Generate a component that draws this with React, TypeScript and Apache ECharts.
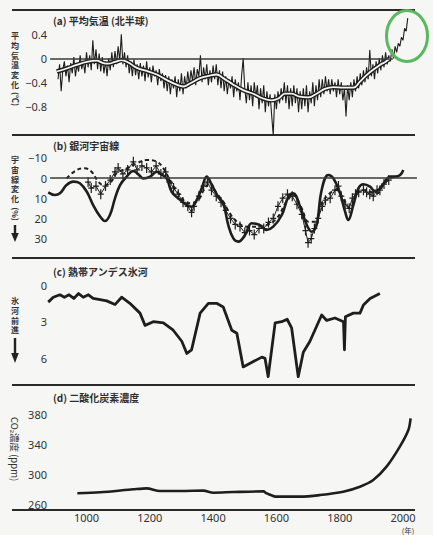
import React, { useEffect, useRef } from "react";
import * as echarts from "echarts";

// ---------- (a) Northern hemisphere mean temperature ----------
const tempStartYear = 910;
const tempStep = 5;
const tempAnnual = [
  -0.35, -0.10, -0.55, -0.20, -0.05, -0.30, -0.12, -0.40, -0.08, -0.25,
  0.02, -0.30, -0.10, -0.22, 0.05, -0.18, -0.05, -0.25, 0.10, -0.15,
  0.05, -0.20, 0.30, -0.10, 0.15, -0.18, 0.08, -0.22, 0.02, -0.25,
  -0.05, -0.30, 0.00, -0.20, 0.10, -0.15, 0.12, -0.10, 0.20, -0.05,
  0.40, -0.10, 0.10, -0.15, 0.05, -0.25, -0.05, -0.30, -0.02, -0.28,
  -0.10, -0.35, -0.08, -0.30, -0.12, -0.38, -0.05, -0.32, -0.15, -0.40,
  -0.12, -0.30, -0.20, -0.45, -0.18, -0.38, -0.25, -0.50, -0.28, -0.55,
  -0.30, -0.60, -0.35, -0.50, -0.30, -0.65, -0.35, -0.55, -0.25, -0.60,
  -0.30, -0.50, -0.22, -0.45, -0.20, -0.38, -0.15, -0.45, -0.18, -0.30,
  0.05, -0.40, -0.15, -0.35, -0.10, -0.45, -0.20, -0.40, -0.12, -0.35,
  -0.10, -0.45, -0.20, -0.50, -0.22, -0.55, -0.30, -0.60, -0.35, -0.50,
  -0.30, -0.65, -0.35, -0.55, -0.40, -0.70, -0.30, 0.00, -0.50, -0.75,
  -0.40, -0.70, -0.45, -0.80, -0.40, -0.65, -0.45, -0.85, -0.50, -0.75,
  -0.45, -0.90, -0.55, -0.80, -0.60, -0.95, -1.28, -0.60, -0.85, -0.55,
  -0.75, -0.50, -0.70, -0.40, -0.75, -0.45, -0.85, -0.50, -0.80, -0.45,
  -0.75, -0.50, -0.90, -0.55, -0.85, -0.50, -0.80, -0.45, -0.90, -0.55,
  -0.75, -0.40, -0.80, -0.45, -0.70, -0.35, -0.65, -0.35, -0.60, -0.30,
  -0.55, -0.35, -0.60, -0.35, -0.55, -0.40, -0.65, -0.35, -0.60, -0.40,
  -0.70, -0.50, -0.97, -0.45, -0.70, -0.40, -0.65, -0.35, -0.55, -0.30,
  -0.50, -0.25, -0.45, -0.20, -0.40, -0.15, -0.35, 0.14, -0.30, -0.10,
  -0.35, -0.05, -0.25, 0.00, -0.20, 0.05, -0.15, 0.10, -0.10, 0.05,
  -0.05, 0.15, 0.00, 0.20, 0.10, 0.25, 0.20, 0.35, 0.30, 0.50,
  0.45, 0.67,
];
const tempSmoothYears = [
  906, 937, 969, 1001, 1032, 1053, 1069, 1090, 1111, 1132, 1159, 1190, 1222, 1253,
  1285, 1306, 1327, 1359, 1390, 1411, 1432, 1464, 1495, 1527, 1558, 1585, 1606,
  1627, 1648, 1674, 1701, 1727, 1753, 1780, 1811, 1843, 1864, 1885, 1906, 1927,
  1944, 1959,
];
const tempSmooth = [
  -0.22, -0.17, -0.11, -0.06, -0.04, -0.08, -0.09, -0.06, -0.03, -0.07, -0.16,
  -0.21, -0.27, -0.36, -0.44, -0.47, -0.42, -0.33, -0.29, -0.27, -0.33, -0.44,
  -0.53, -0.59, -0.67, -0.7, -0.67, -0.59, -0.59, -0.64, -0.65, -0.59, -0.51,
  -0.48, -0.49, -0.49, -0.39, -0.28, -0.19, -0.11, -0.06, 0.0,
];
const tempTicks = [-0.8, -0.4, 0, 0.4];

// ---------- (b) Galactic cosmic rays ----------
const crSolidYears = [
  879, 900, 916, 937, 958, 979, 1001, 1021, 1043, 1058, 1074, 1090, 1106, 1127,
  1148, 1164, 1180, 1201, 1222, 1232, 1253, 1269, 1290, 1317, 1332, 1348, 1364,
  1380, 1396, 1416, 1432, 1448, 1464, 1480, 1501, 1522, 1548, 1569, 1590, 1617,
  1638, 1653, 1675, 1696, 1712, 1727, 1743, 1764, 1780, 1801, 1817, 1827, 1843,
  1859, 1875, 1896, 1912, 1927, 1943, 1959, 1975, 1991, 2001,
];
const crSolid = [
  7.1, 8.4, 7.6, 3.5, 1.8, 2.6, 6.8, 13.4, 19.1, 21.3, 18.3, 10.1, 3.5, -0.7,
  -3.5, -1.8, 0.2, -0.7, -3.1, -2.3, 0.2, 6.8, 10.1, 13.4, 14.2, 10.9, 5.1, -0.7,
  3.5, 9.2, 12.5, 23.3, 29.9, 31.5, 28.2, 22.4, 23.3, 25.7, 24.1, 18.3, 9.2, 7.6,
  14.2, 23.3, 26.6, 23.3, 5.9, -1.5, 0.2, 7.6, 16.7, 20.8, 13.4, 5.1, 3.1, 4.3,
  6.8, 5.1, 1.8, -0.7, -0.7, -1.5, -4.0,
];
const crDashedYears = [
  937, 969, 995, 1016, 1037, 1053, 1074, 1095, 1127, 1159, 1190, 1222, 1243,
  1264, 1295, 1322, 1348, 1374, 1390, 1411, 1432, 1453, 1475, 1506, 1538, 1569,
  1601, 1632, 1653, 1680, 1701, 1722, 1743, 1769, 1790, 1811, 1832, 1854, 1875,
  1896, 1917, 1938, 1959, 1980,
];
const crDashed = [
  0.2, -4.0, -4.8, -3.1, 1.8, 3.5, 2.6, -2.3, -4.8, -7.3, -8.9, -8.1, -4.8, 1.0,
  8.4, 12.5, 11.7, 5.1, 2.6, 7.6, 11.7, 17.5, 21.6, 24.1, 24.1, 23.3, 20.0, 11.7,
  8.4, 15.0, 21.6, 21.6, 12.5, 7.6, 5.9, 10.1, 15.0, 7.6, 5.9, 6.8, 7.6, 3.5, 0.2,
  -0.7,
];
const crPointYears = [
  1005, 1015, 1030, 1045, 1060, 1075, 1090, 1100, 1115, 1130, 1148, 1160, 1175,
  1190, 1205, 1220, 1235, 1250, 1262, 1275, 1290, 1305, 1320, 1332, 1340, 1355,
  1370, 1382, 1395, 1410, 1425, 1440, 1455, 1470, 1485, 1500, 1515, 1530, 1545,
  1560, 1575, 1590, 1605, 1620, 1635, 1650, 1665, 1680, 1692, 1700, 1710, 1720,
  1732, 1745, 1755, 1770, 1785, 1796, 1805, 1817, 1830, 1840, 1850, 1860, 1875,
  1885, 1895, 1906, 1918, 1927, 1940, 1955,
];
const crPoints = [
  2, 5, 4, 8, 4, 1, -3, -5, -2, -4, -8, -4, -6, -5, -3, -6, -2, -3, 2, 5, 8, 12,
  14, 17, 14, 9, 4, 2, 6, 9, 12, 16, 20, 23, 24, 27, 26, 28, 25, 25, 22, 20, 14,
  10, 8, 9, 13, 18, 26, 32, 30, 25, 20, 14, 11, 10, 6, 4, 9, 13, 15, 10, 8, 7, 6,
  7, 8, 9, 6, 6, 3, 1,
];
const crTicks = [-10, 0, 10, 20, 30];

// ---------- (c) Tropical Andes glaciers ----------
const glacierYears = [
  879, 895, 916, 930, 945, 960, 975, 990, 1006, 1021, 1043, 1064, 1090, 1111,
  1137, 1169, 1185, 1211, 1243, 1274, 1301, 1317, 1332, 1359, 1385, 1411, 1432,
  1459, 1475, 1495, 1517, 1554, 1564, 1574, 1596, 1617, 1634, 1648, 1669, 1685,
  1706, 1743, 1759, 1785, 1812, 1815, 1818, 1843, 1864, 1875, 1896, 1927,
];
const glacierAdvance = [
  1.4, 1.0, 0.8, 1.0, 0.8, 1.1, 0.7, 1.0, 0.8, 1.1, 1.2, 1.3, 1.6, 1.0, 1.5, 2.3,
  3.3, 3.0, 3.1, 3.7, 4.6, 5.6, 5.3, 2.3, 1.5, 1.5, 1.8, 3.7, 3.95, 6.7, 6.4, 5.9,
  6.0, 7.5, 3.1, 3.0, 2.8, 3.5, 7.5, 5.5, 4.6, 2.45, 2.9, 2.7, 3.0, 5.3, 2.6, 2.3,
  2.3, 1.64, 1.1, 0.7,
];
const glacierTicks = [0, 3, 6];

// ---------- (d) CO2 concentration ----------
const co2Years = [
  971, 1043, 1148, 1190, 1232, 1306, 1369, 1401, 1464, 1559, 1569, 1601, 1675,
  1738, 1811, 1864, 1906, 1948, 1990, 2017, 2024,
];
const co2 = [
  275.6, 276.9, 280.9, 282.2, 278.7, 278.7, 279.1, 276.4, 277.3, 278.2, 275.6,
  271.1, 271.1, 273.3, 277.8, 284.4, 293.3, 311.1, 337.8, 360, 375.6,
];
const co2Ticks = [260, 300, 340, 380];
const yearTicks = [1000, 1200, 1400, 1600, 1800, 2000];

const titles = [
  "(a) 平均気温 (北半球)",
  "(b) 銀河宇宙線",
  "(c) 熱帯アンデス氷河",
  "(d) 二酸化炭素濃度",
];

const pair = (xs: number[], ys: number[]) => xs.map((x, i) => [x, ys[i]]);

const INK = "#1e1e1e";
const TXT = "#333";
const FONT = "'Noto Sans', 'Noto Sans CJK JP', sans-serif";
const JFONT = "'Noto Sans CJK JP', 'Noto Sans', sans-serif";

const minusFmt = (v: number) => (v < 0 ? "−" + String(Math.abs(v)) : String(v));

function buildOption() {
  const GL = 42.19;
  const GW = 376.64;
  const grids = [
    { left: GL, width: GW, top: 10, height: 125 },
    { left: GL, width: GW, top: 135, height: 123 },
    { left: GL, width: GW, top: 258, height: 127 },
    { left: GL, width: GW, top: 385, height: 125 },
  ];
  const xAxes = grids.map((_, i) => ({
    type: "value",
    gridIndex: i,
    min: 860,
    max: 2050,
    splitLine: { show: false },
    axisLine: { show: false },
    axisTick: { show: false },
    axisLabel:
      i === 3
        ? {
            show: true,
            customValues: yearTicks,
            margin: 2,
            fontSize: 11,
            color: TXT,
            fontFamily: FONT,
            formatter: (v: number) => String(v),
          }
        : { show: false },
  }));
  const yBase = (i: number, min: number, max: number, ticks: number[], inverse: boolean) => ({
    type: "value",
    gridIndex: i,
    min,
    max,
    inverse,
    offset: -7.8,
    splitLine: { show: false },
    axisLine: { show: false },
    axisTick: { show: false },
    axisLabel: {
      customValues: ticks,
      margin: 3,
      fontSize: 11,
      color: TXT,
      fontFamily: FONT,
      formatter: minusFmt,
    },
  });
  const yAxes = [
    yBase(0, -1.278, 0.805, tempTicks, false),
    yBase(1, -21.29, 39.6, crTicks, true),
    yBase(2, -2.21, 8.18, glacierTicks, true),
    yBase(3, 253.33, 420, co2Ticks, false),
  ];

  const tempRaw = tempAnnual.map((v, i) => [tempStartYear + i * tempStep, v]);
  const zeroLine = (x0: number, x1: number) => ({
    silent: true,
    symbol: ["none", "none"],
    label: { show: false },
    lineStyle: { color: "#3a3a3a", width: 1.5, type: "solid" },
    data: [[{ coord: [x0, 0] }, { coord: [x1, 0] }]],
  });

  const crossSymbol =
    "path://M-0.6,-5L0.6,-5L0.6,-0.6L3,-0.6L3,0.6L0.6,0.6L0.6,5L-0.6,5L-0.6,0.6L-3,0.6L-3,-0.6L-0.6,-0.6Z";

  const series: any[] = [
    {
      type: "line",
      xAxisIndex: 0,
      yAxisIndex: 0,
      data: tempRaw,
      showSymbol: false,
      lineStyle: { color: INK, width: 1.1 },
      z: 2,
      markLine: zeroLine(885, 1968),
    },
    {
      type: "line",
      xAxisIndex: 0,
      yAxisIndex: 0,
      data: pair(tempSmoothYears, tempSmooth),
      smooth: 0.4,
      showSymbol: false,
      lineStyle: { color: INK, width: 4.5 },
      z: 3,
    },
    {
      type: "line",
      xAxisIndex: 0,
      yAxisIndex: 0,
      data: pair(tempSmoothYears, tempSmooth),
      smooth: 0.4,
      showSymbol: false,
      lineStyle: { color: "#f4f4f2", width: 1.8 },
      z: 4,
    },
    {
      type: "line",
      xAxisIndex: 1,
      yAxisIndex: 1,
      data: pair(crPointYears, crPoints),
      symbol: crossSymbol,
      symbolSize: [6, 10],
      showSymbol: true,
      itemStyle: { color: INK },
      lineStyle: { color: INK, width: 1 },
      z: 2,
      markLine: zeroLine(885, 2044),
    },
    {
      type: "line",
      xAxisIndex: 1,
      yAxisIndex: 1,
      data: pair(crDashedYears, crDashed),
      smooth: 0.4,
      showSymbol: false,
      lineStyle: { color: INK, width: 2, type: [4, 3] },
      z: 3,
    },
    {
      type: "line",
      xAxisIndex: 1,
      yAxisIndex: 1,
      data: pair(crSolidYears, crSolid),
      smooth: 0.4,
      showSymbol: false,
      lineStyle: { color: INK, width: 2.6 },
      z: 4,
    },
    {
      type: "line",
      xAxisIndex: 2,
      yAxisIndex: 2,
      data: pair(glacierYears, glacierAdvance),
      showSymbol: false,
      lineStyle: { color: INK, width: 2.8, join: "round" },
    },
    {
      type: "line",
      xAxisIndex: 3,
      yAxisIndex: 3,
      data: pair(co2Years, co2),
      smooth: 0.3,
      showSymbol: false,
      lineStyle: { color: INK, width: 2.6 },
    },
  ];

  const rule = (y: number) => ({
    type: "line",
    shape: { x1: 12, y1: y, x2: 415, y2: y },
    style: { stroke: "#2a2a2a", lineWidth: 2 },
    silent: true,
  });
  const vText = (x: number, y: number, text: string) => ({
    type: "text",
    x,
    y,
    style: {
      text,
      fontSize: 8,
      lineHeight: 9.7,
      fontWeight: "bold",
      fontFamily: JFONT,
      fill: TXT,
      align: "center",
      verticalAlign: "top",
    },
  });
  const rText = (x: number, y: number, text: string, size: number, bold: boolean) => ({
    type: "text",
    x,
    y,
    rotation: -Math.PI / 2,
    style: {
      text,
      fontSize: size,
      fontWeight: bold ? "bold" : "normal",
      fontFamily: JFONT,
      fill: TXT,
      align: "center",
      verticalAlign: "middle",
    },
  });
  const titleY = [20, 145, 271, 397];
  const graphic: any[] = [
    rule(10),
    rule(135),
    rule(258),
    rule(385),
    rule(510),
    ...titles.map((t, i) => ({
      type: "text",
      x: 53,
      y: titleY[i],
      style: {
        text: t,
        fontSize: 10,
        fontWeight: "bold",
        fontFamily: JFONT,
        fill: "#2e2e2e",
        align: "left",
        verticalAlign: "middle",
      },
    })),
    vText(15, 31, "平\n均\n気\n温\n変\n化"),
    rText(15, 99, "(℃)", 8, true),
    vText(15, 155, "宇\n宙\n線\n変\n化"),
    rText(15, 214, "(%)", 8, true),
    {
      type: "line",
      shape: { x1: 15, y1: 225, x2: 15, y2: 236 },
      style: { stroke: "#222", lineWidth: 2.4 },
    },
    {
      type: "polygon",
      shape: { points: [[11.2, 233], [18.8, 233], [15, 242]] },
      style: { fill: "#222" },
    },
    vText(15, 296, "氷\n河\n前\n進"),
    {
      type: "line",
      shape: { x1: 15, y1: 338, x2: 15, y2: 356 },
      style: { stroke: "#222", lineWidth: 2.4 },
    },
    {
      type: "polygon",
      shape: { points: [[11.2, 353], [18.8, 353], [15, 363]] },
      style: { fill: "#222" },
    },
    rText(15, 449, "CO₂濃度 (ppm)", 9.5, false),
    {
      type: "text",
      x: 408,
      y: 530,
      style: {
        text: "(年)",
        fontSize: 7.5,
        fontFamily: JFONT,
        fill: TXT,
        align: "center",
        verticalAlign: "middle",
      },
    },
    {
      type: "ellipse",
      shape: { cx: 407, cy: 36, rx: 20.5, ry: 25.5 },
      style: { fill: "none", stroke: "#5cb860", lineWidth: 3 },
      z: 100,
    },
  ];

  return {
    animation: false,
    backgroundColor: "#f6f6f4",
    textStyle: { fontFamily: FONT },
    grid: grids,
    xAxis: xAxes,
    yAxis: yAxes,
    series,
    graphic,
  };
}

export default function App() {
  const ref = useRef<HTMLDivElement>(null);
  useEffect(() => {
    if (!ref.current) return;
    const chart = echarts.init(ref.current, null, { renderer: "svg" });
    chart.setOption(buildOption() as any);
    return () => chart.dispose();
  }, []);
  return (
    <div
      ref={ref}
      style={{ position: "absolute", left: 0, top: 0, width: 433, height: 535 }}
    />
  );
}
